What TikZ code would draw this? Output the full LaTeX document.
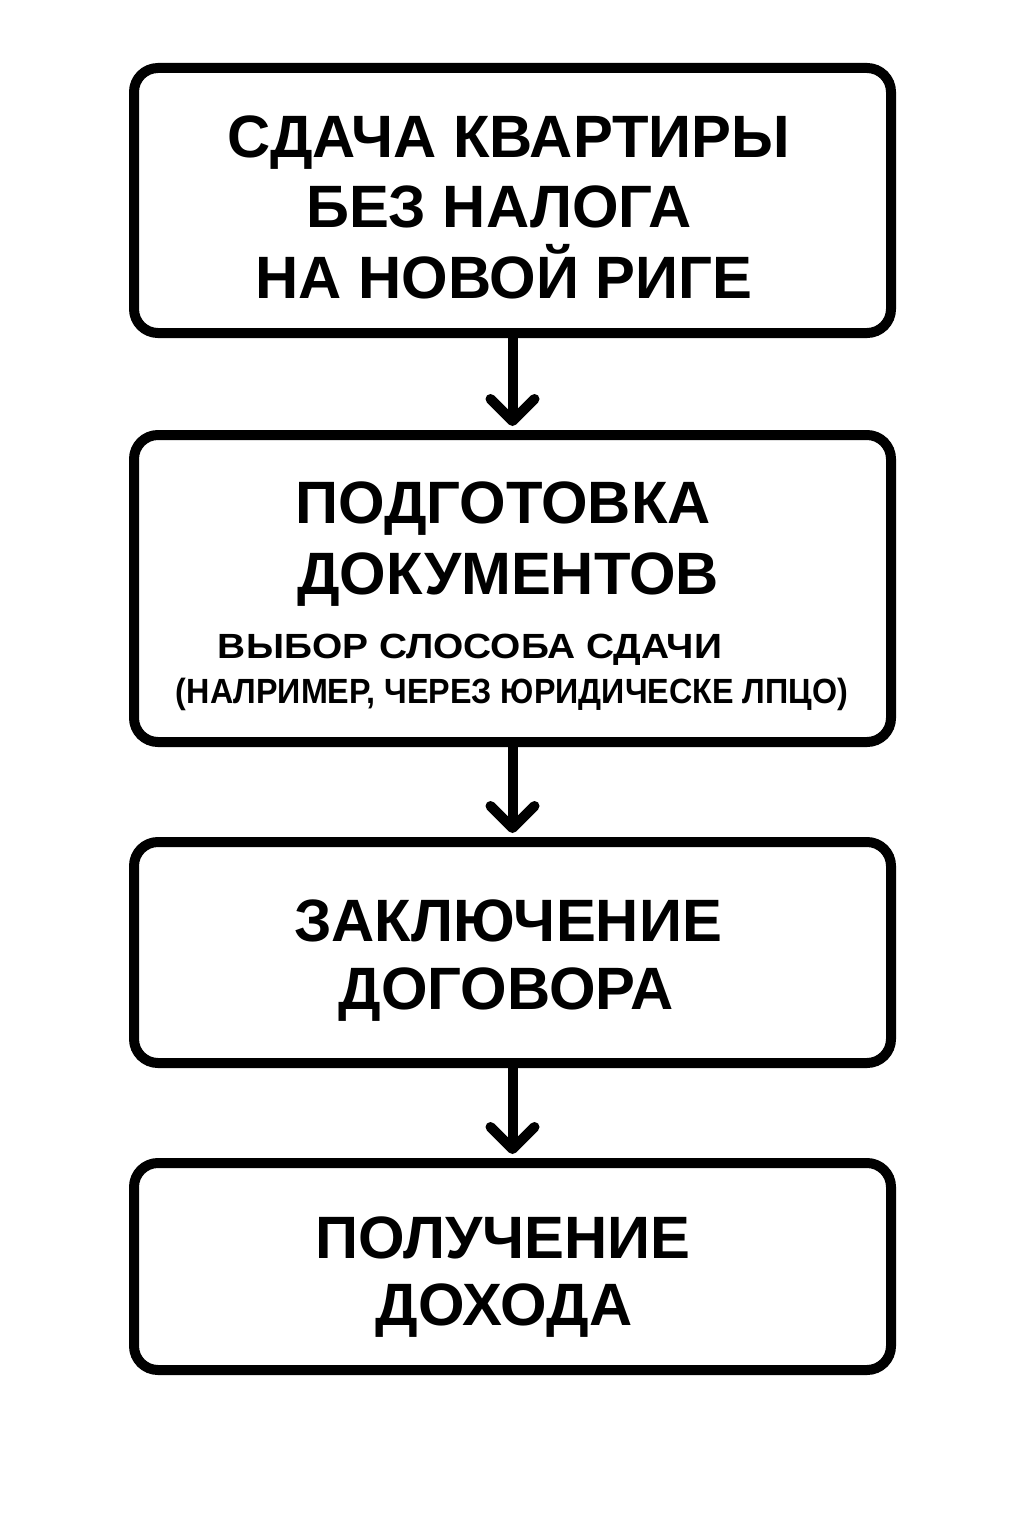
\documentclass[tikz,border=0pt]{standalone}
\usepackage{fontspec}
\setmainfont{Liberation Sans}
\usetikzlibrary{arrows.meta}
\tikzset{
  box/.style={draw=black, line width=5pt, rounded corners=12pt, minimum width=378.5pt, inner sep=0pt},
  big/.style={anchor=base, inner sep=0pt, font=\bfseries\fontsize{29.9pt}{35pt}\selectfont},
  small/.style={anchor=base, inner sep=0pt, font=\bfseries\fontsize{17.5pt}{20pt}\selectfont},
  conn/.style={line width=5pt, line cap=round, -{Straight Barb[length=11pt, width=22pt, line cap=round, line join=round]}}
}
\begin{document}
\begin{tikzpicture}[x=0.5pt, y=-0.5pt]
\useasboundingbox[fill=white] (0,0) rectangle (1024,1536);
\node[box, minimum height=132.5pt] (b1) at (512.5,200.5) {};
\node[box, minimum height=153.5pt] (b2) at (512.5,588.5) {};
\node[box, minimum height=110.5pt] (b3) at (512.5,952.5) {};
\node[box, minimum height=103.5pt] (b4) at (512.5,1266.5) {};
\node[big] (t11) at (509,157) {СДАЧА КВАРТИРЫ};
\node[big] (t12) at (499,227) {БЕЗ НАЛОГА};
\node[big] (t13) at (504,298) {НА НОВОЙ РИГЕ};
\node[big] (t21) at (503,523) {ПОДГОТОВКА};
\node[big] (t22) at (508,594) {ДОКУМЕНТОВ};
\node[small] (t23) at (470,658) {\resizebox{252pt}{\height}{ВЫБОР СЛОСОБА СДАЧИ}};
\node[small] (t24) at (512,703) {\resizebox{336pt}{\height}{(НАЛРИМЕР, ЧЕРЕЗ ЮРИДИЧЕСКЕ ЛПЦО)}};
\node[big] (t31) at (508,941) {ЗАКЛЮЧЕНИЕ};
\node[big] (t32) at (506,1009) {ДОГОВОРА};
\node[big] (t41) at (503,1258) {ПОЛУЧЕНИЕ};
\node[big] (t42) at (504,1325) {ДОХОДА};
\draw[conn] (b1.south) -- ([yshift=2pt]b2.north);
\draw[conn] (b2.south) -- ([yshift=2pt]b3.north);
\draw[conn] (b3.south) -- ([yshift=2pt]b4.north);
\end{tikzpicture}
\end{document}
